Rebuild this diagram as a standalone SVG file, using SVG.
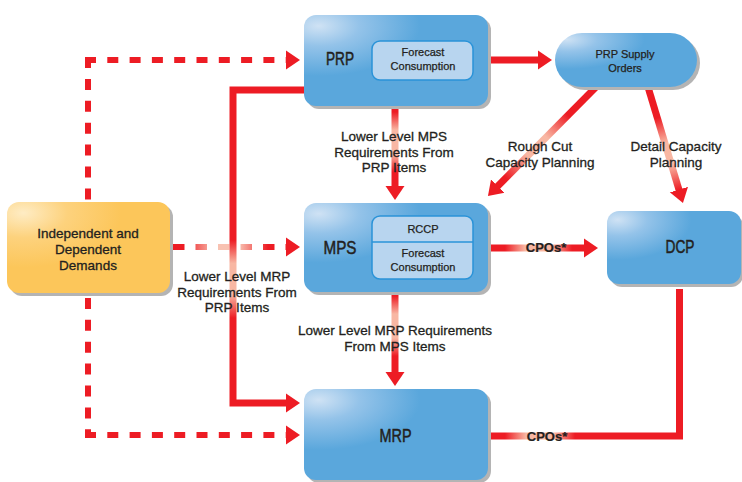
<svg xmlns="http://www.w3.org/2000/svg" width="742" height="482" viewBox="0 0 742 482">
<style>
text{font-family:"Liberation Sans",Arial,sans-serif;fill:#231f20;text-anchor:middle;stroke:#231f20;stroke-width:0.3}
.lbl{font-size:13.5px}
.in{font-size:11px;stroke-width:0.25}
.big{font-size:18px;stroke-width:0.5}
.cpo{font-size:13px;font-weight:bold;stroke-width:0.2}
.sh{fill:#b4b4b4}
.blue{fill:url(#blueG)}
.org{fill:url(#orgG)}
.inner{fill:#b8d5ef;stroke:#2a93d8;stroke-width:1.5}
.ln{fill:none;stroke:#ed1c24;stroke-width:7}
.dash{fill:none;stroke:#ed1c24;stroke-width:6;stroke-dasharray:11 11.3}
</style>
<defs>
<radialGradient id="blueG" cx="0.08" cy="0.12" r="0.55" fx="0.08" fy="0.12">
<stop offset="0" stop-color="#cfe2f4"/>
<stop offset="0.4" stop-color="#94c3e9"/>
<stop offset="1" stop-color="#5aa7dc"/>
</radialGradient>
<radialGradient id="orgG" cx="0.1" cy="0.12" r="0.6" fx="0.1" fy="0.12">
<stop offset="0" stop-color="#feecc4"/>
<stop offset="0.45" stop-color="#fdd27d"/>
<stop offset="1" stop-color="#fcc65a"/>
</radialGradient>
<linearGradient id="gA" gradientUnits="userSpaceOnUse" x1="0" y1="112" x2="0" y2="172">
<stop offset="0" stop-color="#ed1c24"/><stop offset="0.3" stop-color="#f8b7a3"/><stop offset="0.7" stop-color="#f8b7a3"/><stop offset="1" stop-color="#ed1c24"/>
</linearGradient>
<linearGradient id="gB" gradientUnits="userSpaceOnUse" x1="0" y1="296" x2="0" y2="356">
<stop offset="0" stop-color="#ed1c24"/><stop offset="0.3" stop-color="#f8b7a3"/><stop offset="0.7" stop-color="#f8b7a3"/><stop offset="1" stop-color="#ed1c24"/>
</linearGradient>
<linearGradient id="gC" gradientUnits="userSpaceOnUse" x1="505" y1="0" x2="572" y2="0">
<stop offset="0" stop-color="#ed1c24"/><stop offset="0.3" stop-color="#f8b7a3"/><stop offset="0.7" stop-color="#f8b7a3"/><stop offset="1" stop-color="#ed1c24"/>
</linearGradient>
<linearGradient id="gD" gradientUnits="userSpaceOnUse" x1="505" y1="0" x2="575" y2="0">
<stop offset="0" stop-color="#ed1c24"/><stop offset="0.3" stop-color="#f8b7a3"/><stop offset="0.7" stop-color="#f8b7a3"/><stop offset="1" stop-color="#ed1c24"/>
</linearGradient>
<linearGradient id="gE" gradientUnits="userSpaceOnUse" x1="0" y1="240" x2="0" y2="318">
<stop offset="0" stop-color="#ed1c24"/><stop offset="0.3" stop-color="#f8b7a3"/><stop offset="0.7" stop-color="#f8b7a3"/><stop offset="1" stop-color="#ed1c24"/>
</linearGradient>
<linearGradient id="gF" gradientUnits="userSpaceOnUse" x1="185" y1="0" x2="268" y2="0">
<stop offset="0" stop-color="#ed1c24"/><stop offset="0.35" stop-color="#f8c2b2"/><stop offset="0.65" stop-color="#f8c2b2"/><stop offset="1" stop-color="#ed1c24"/>
</linearGradient>
<linearGradient id="gG" gradientUnits="userSpaceOnUse" x1="568" y1="115" x2="506" y2="178">
<stop offset="0" stop-color="#ed1c24"/><stop offset="0.35" stop-color="#f8b7a3"/><stop offset="0.65" stop-color="#f8b7a3"/><stop offset="1" stop-color="#ed1c24"/>
</linearGradient>
<linearGradient id="gH" gradientUnits="userSpaceOnUse" x1="657" y1="118" x2="679" y2="190">
<stop offset="0" stop-color="#ed1c24"/><stop offset="0.35" stop-color="#f8b7a3"/><stop offset="0.65" stop-color="#f8b7a3"/><stop offset="1" stop-color="#ed1c24"/>
</linearGradient>
<marker id="ah" markerUnits="userSpaceOnUse" markerWidth="16" markerHeight="20" viewBox="0 0 16 20" refX="2" refY="10" orient="auto">
<path d="M0,0.5 L14,10 L0,19.5 z" fill="#ed1c24"/>
</marker>
</defs>

<g id="connectors">
<path class="dash" d="M88,57 V438" style="stroke-dasharray:11 10.9"/>
<path class="dash" d="M85,60 H288" marker-end="url(#ah)"/>
<path class="dash" d="M85,435 H288" marker-end="url(#ah)"/>
<path class="dash" d="M173,247 H288" style="stroke:url(#gF);stroke-dasharray:11.5 11" marker-end="url(#ah)"/>
<path class="ln" d="M304,90 H233 V403 H288" style="stroke:url(#gE)" marker-end="url(#ah)"/>
<path class="ln" d="M488,60 H540" marker-end="url(#ah)"/>
<path class="ln" d="M395,106 V188" style="stroke:url(#gA)" marker-end="url(#ah)"/>
<path class="ln" d="M395,293 V374" style="stroke:url(#gB)" marker-end="url(#ah)"/>
<path class="ln" d="M488,248 H586" style="stroke:url(#gC)" marker-end="url(#ah)"/>
<path class="ln" d="M596,87 L496.4,187.5" style="stroke:url(#gG)" marker-end="url(#ah)"/>
<path class="ln" d="M648,87 L679.5,191.5" style="stroke:url(#gH)" marker-end="url(#ah)"/>
<path class="ln" d="M679.5,289 V436 H488" style="stroke:url(#gD)"/>
<text class="lbl" x="394" y="141">Lower Level MPS</text>
<text class="lbl" x="394" y="156.5">Requirements From</text>
<text class="lbl" x="394" y="172">PRP Items</text>
<text class="lbl" x="395" y="335">Lower Level MRP Requirements</text>
<text class="lbl" x="395" y="350.5">From MPS Items</text>
<text class="lbl" x="237" y="281">Lower Level MRP</text>
<text class="lbl" x="237" y="296.5">Requirements From</text>
<text class="lbl" x="237" y="312">PRP Items</text>
<text class="lbl" x="540" y="151">Rough Cut</text>
<text class="lbl" x="540" y="166.5">Capacity Planning</text>
<text class="lbl" x="676" y="151">Detail Capacity</text>
<text class="lbl" x="676" y="166.5">Planning</text>
<text class="cpo" x="546" y="252">CPOs*</text>
<text class="cpo" x="547" y="441">CPOs*</text>
</g>

<g id="node-demands">
<rect class="sh" x="10" y="205" width="163" height="91" rx="12"/>
<rect class="org" x="7" y="202" width="163" height="91" rx="12"/>
<text class="lbl" x="88" y="238">Independent and</text>
<text class="lbl" x="88" y="254">Dependent</text>
<text class="lbl" x="88" y="270">Demands</text>
</g>

<g id="node-prp">
<rect class="sh" x="307" y="18" width="184" height="91" rx="12"/>
<rect class="blue" x="304" y="15" width="184" height="91" rx="12"/>
<text class="big" x="340" y="65" textLength="28" lengthAdjust="spacingAndGlyphs">PRP</text>
<rect class="inner" x="372" y="41" width="101" height="39" rx="8"/>
<text class="in" x="423" y="56">Forecast</text>
<text class="in" x="423" y="69.5">Consumption</text>
</g>

<g id="node-supply">
<rect class="sh" x="558" y="36" width="142" height="54" rx="27"/>
<rect class="blue" x="555" y="33" width="142" height="54" rx="27"/>
<text class="in" x="625" y="57.5">PRP Supply</text>
<text class="in" x="625" y="72">Orders</text>
</g>

<g id="node-mps">
<rect class="sh" x="307" y="206" width="184" height="89" rx="12"/>
<rect class="blue" x="304" y="203" width="184" height="89" rx="12"/>
<text class="big" x="340" y="254" textLength="33" lengthAdjust="spacingAndGlyphs">MPS</text>
<rect class="inner" x="372" y="216" width="101" height="63" rx="8"/>
<line x1="372" y1="242" x2="473" y2="242" stroke="#2a93d8" stroke-width="1.5"/>
<text class="in" x="423" y="233">RCCP</text>
<text class="in" x="423" y="257">Forecast</text>
<text class="in" x="423" y="271">Consumption</text>
</g>

<g id="node-dcp">
<rect class="sh" x="610" y="214" width="133" height="73" rx="12"/>
<rect class="blue" x="607" y="211" width="134" height="73" rx="12"/>
<text class="big" x="680" y="253" textLength="29" lengthAdjust="spacingAndGlyphs">DCP</text>
</g>

<g id="node-mrp">
<rect class="sh" x="307" y="392" width="184" height="91" rx="12"/>
<rect class="blue" x="304" y="389" width="184" height="91" rx="12"/>
<text class="big" x="395.5" y="442" textLength="32" lengthAdjust="spacingAndGlyphs">MRP</text>
</g>
</svg>
